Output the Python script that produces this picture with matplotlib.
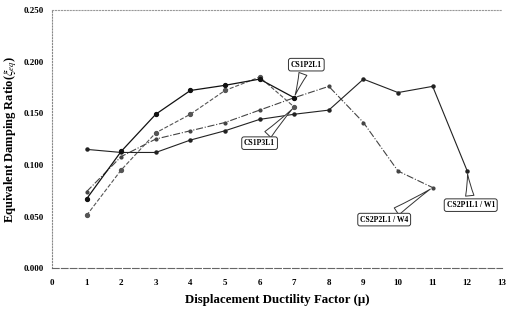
import matplotlib.pyplot as plt
import numpy as np

plt.rcParams['font.family'] = ['Liberation Serif', 'DejaVu Serif']
plt.rcParams['mathtext.fontset'] = 'stix'

x_ticks = list(range(0, 14))
y_ticks = [0.0, 0.05, 0.10, 0.15, 0.20, 0.25]

# CS1P2L1
mu_a = [1, 2, 3, 4, 5, 6, 7]
xi_a = [0.067, 0.113, 0.149, 0.172, 0.177, 0.183, 0.165]
# CS1P3L1
mu_b = [1, 2, 3, 4, 5, 6, 7]
xi_b = [0.051, 0.095, 0.131, 0.149, 0.172, 0.185, 0.156]
# CS2P2L1 / W4
mu_c = [1, 2, 3, 4, 5, 6, 7, 8, 9, 10, 11]
xi_c = [0.074, 0.108, 0.125, 0.133, 0.141, 0.153, 0.165, 0.176, 0.141, 0.094, 0.078]
# CS2P1L1 / W1
mu_d = [1, 2, 3, 4, 5, 6, 7, 8, 9, 10, 11, 12]
xi_d = [0.115, 0.112, 0.112, 0.124, 0.133, 0.144, 0.149, 0.153, 0.183, 0.170, 0.176, 0.094]

fig = plt.figure(figsize=(5.09, 3.10), dpi=100)
ax = fig.add_axes([0.102, 0.135, 0.884, 0.833])

ax.plot(mu_d, xi_d, color='#222222', lw=0.8, marker='o', ms=2.2)
ax.plot(mu_c, xi_c, color='#444444', lw=0.8, ls='-.', marker='o', ms=2)
ax.plot(mu_b, xi_b, color='#555555', lw=0.8, ls='--', marker='o', ms=2.8)
ax.plot(mu_a, xi_a, color='#111111', lw=0.9, marker='o', ms=2.8)

ax.set_xlim(0, 13)
ax.set_ylim(0, 0.25)
ax.set_xticks(x_ticks)
ax.set_yticks(y_ticks)
ax.set_yticklabels(['%.3f' % v for v in y_ticks])
ax.tick_params(axis='x', length=0, labelsize=6.5, pad=8)
ax.tick_params(axis='y', length=0, labelsize=6.5, pad=6)
for lab in ax.get_xticklabels() + ax.get_yticklabels():
    lab.set_fontweight('bold')

ax.spines['right'].set_visible(False)
ax.spines['top'].set_linestyle(':')
ax.spines['top'].set_color('#999999')
ax.spines['left'].set_linestyle(':')
ax.spines['left'].set_color('#888888')
ax.spines['bottom'].set_linestyle((0, (6, 2)))
ax.spines['bottom'].set_color('#666666')
ax.spines['bottom'].set_linewidth(0.8)

ax.set_xlabel('Displacement Ductility Factor (μ)', fontsize=9.3, fontweight='bold', labelpad=5)
ax.set_ylabel(r'Equivalent Damping Ratio($\xi_{eq}$)', fontsize=9, fontweight='bold', labelpad=3)

box = dict(boxstyle='round,pad=0.3,rounding_size=0.3', fc='white', ec='#333333', lw=0.7)
arrow = dict(arrowstyle='wedge,tail_width=1.1,shrink_factor=0.4', fc='white', ec='#333333', lw=0.7)
fs = 5.5
ax.annotate('CS1P2L1', xy=(mu_a[-1], xi_a[-1]), xytext=(7.35, 0.197), fontsize=fs,
            fontweight='bold', ha='center', va='center', bbox=box, arrowprops=arrow)
ax.annotate('CS1P3L1', xy=(mu_b[-1], xi_b[-1]), xytext=(6.0, 0.121), fontsize=fs,
            fontweight='bold', ha='center', va='center', bbox=box, arrowprops=arrow)
ax.annotate('CS2P2L1 / W4', xy=(mu_c[-1], xi_c[-1]), xytext=(9.6, 0.047), fontsize=fs,
            fontweight='bold', ha='center', va='center', bbox=box, arrowprops=arrow)
ax.annotate('CS2P1L1 / W1', xy=(mu_d[-1], xi_d[-1]), xytext=(12.1, 0.061), fontsize=fs,
            fontweight='bold', ha='center', va='center', bbox=box, arrowprops=arrow)

fig.savefig('out.png', dpi=100)
